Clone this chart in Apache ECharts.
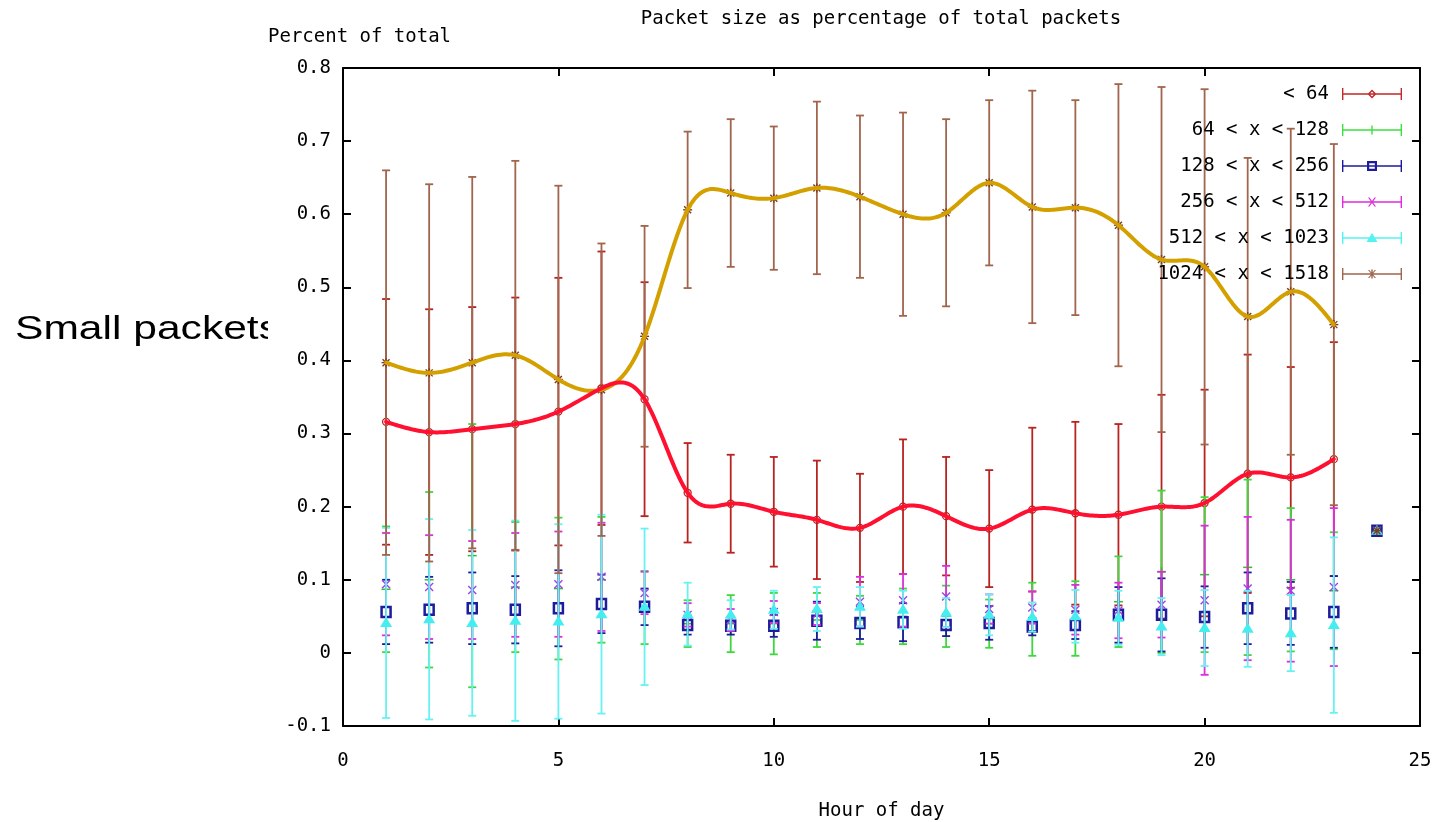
<!DOCTYPE html>
<html>
<head>
<meta charset="utf-8">
<script src="https://cdn.jsdelivr.net/npm/echarts@6/dist/echarts.min.js"></script>
<style>
  html, body { margin: 0; padding: 0; background: #fff; }
  #chart { width: 1435px; height: 822px; }
</style>
</head>
<body>
<div id="chart"></div>
<script>
const hours = [1, 2, 3, 4, 5, 6, 7, 8, 9, 10, 11, 12, 13, 14, 15, 16, 17, 18, 19, 20, 21, 22, 23, 24];

// mean and std-dev per hour
const lt64Mean = [0.316, 0.302, 0.306, 0.313, 0.330, 0.362, 0.347, 0.219, 0.204, 0.193, 0.182, 0.171, 0.200, 0.187, 0.170, 0.196, 0.191, 0.189, 0.200, 0.205, 0.245, 0.240, 0.265, 0.167];
const lt64Sd = [0.168, 0.168, 0.167, 0.173, 0.183, 0.187, 0.160, 0.068, 0.067, 0.075, 0.081, 0.074, 0.092, 0.081, 0.080, 0.112, 0.125, 0.124, 0.153, 0.155, 0.163, 0.151, 0.160, 0];

const s128Mean = [0.087, 0.100, 0.133, 0.090, 0.088, 0.100, 0.062, 0.040, 0.040, 0.040, 0.045, 0.045, 0.050, 0.050, 0.040, 0.046, 0.047, 0.070, 0.111, 0.107, 0.117, 0.100, 0.085, 0.167];
const s128Sd = [0.086, 0.120, 0.180, 0.089, 0.097, 0.086, 0.050, 0.032, 0.039, 0.042, 0.037, 0.033, 0.038, 0.042, 0.033, 0.050, 0.051, 0.062, 0.111, 0.106, 0.120, 0.098, 0.080, 0];

const s256Mean = [0.056, 0.059, 0.061, 0.059, 0.061, 0.067, 0.063, 0.038, 0.037, 0.037, 0.044, 0.041, 0.042, 0.038, 0.041, 0.036, 0.038, 0.052, 0.052, 0.049, 0.061, 0.054, 0.056, 0.167];
const s256Sd = [0.044, 0.045, 0.049, 0.046, 0.052, 0.040, 0.025, 0.013, 0.012, 0.015, 0.026, 0.022, 0.026, 0.015, 0.023, 0.012, 0.019, 0.038, 0.050, 0.042, 0.049, 0.043, 0.049, 0];

const s512Mean = [0.094, 0.090, 0.086, 0.093, 0.094, 0.104, 0.082, 0.052, 0.045, 0.056, 0.053, 0.070, 0.072, 0.077, 0.060, 0.062, 0.059, 0.058, 0.066, 0.072, 0.088, 0.085, 0.090, 0.167];
const s512Sd = [0.070, 0.071, 0.067, 0.071, 0.072, 0.074, 0.029, 0.016, 0.015, 0.015, 0.015, 0.034, 0.036, 0.042, 0.020, 0.022, 0.034, 0.038, 0.045, 0.102, 0.098, 0.097, 0.108, 0];

const s1023Mean = [0.041, 0.046, 0.041, 0.044, 0.043, 0.053, 0.063, 0.053, 0.052, 0.059, 0.060, 0.063, 0.059, 0.055, 0.052, 0.049, 0.050, 0.048, 0.036, 0.034, 0.033, 0.027, 0.038, 0.167];
const s1023Sd = [0.130, 0.137, 0.127, 0.137, 0.133, 0.136, 0.107, 0.043, 0.020, 0.026, 0.030, 0.027, 0.026, 0.020, 0.028, 0.020, 0.036, 0.037, 0.039, 0.052, 0.052, 0.052, 0.120, 0];

const s1518Mean = [0.397, 0.383, 0.397, 0.407, 0.374, 0.360, 0.433, 0.606, 0.629, 0.622, 0.636, 0.624, 0.600, 0.602, 0.643, 0.610, 0.609, 0.585, 0.538, 0.528, 0.460, 0.494, 0.449, 0.167];
const s1518Sd = [0.263, 0.258, 0.254, 0.266, 0.265, 0.200, 0.151, 0.107, 0.101, 0.098, 0.118, 0.111, 0.139, 0.128, 0.113, 0.159, 0.147, 0.193, 0.236, 0.243, 0.217, 0.223, 0.247, 0];

const seriesNames = ['< 64', '64 < x < 128', '128 < x < 256', '256 < x < 512', '512 < x < 1023', '1024 < x < 1518'];
const xTicks = { min: 0, max: 25, step: 5 };
const yTicks = { min: -0.1, max: 0.8, step: 0.1 };

const FONT = 'DejaVu Sans Mono';

// marker drawers (gnuplot point types)
const markers = {
  circle: (p, c) => [{ type: 'circle', shape: { cx: p[0], cy: p[1], r: 3.5 }, style: { fill: 'none', stroke: c, lineWidth: 1.3 } }],
  plus: (p, c) => [
    { type: 'line', shape: { x1: p[0] - 4.5, y1: p[1], x2: p[0] + 4.5, y2: p[1] }, style: { stroke: c, lineWidth: 1.5 } },
    { type: 'line', shape: { x1: p[0], y1: p[1] - 4.5, x2: p[0], y2: p[1] + 4.5 }, style: { stroke: c, lineWidth: 1.5 } }
  ],
  square: (p, c) => [{ type: 'rect', shape: { x: p[0] - 4.5, y: p[1] - 5, width: 9, height: 10 }, style: { fill: 'none', stroke: c, lineWidth: 2.5 } }],
  cross: (p, c) => [
    { type: 'line', shape: { x1: p[0] - 4, y1: p[1] - 4, x2: p[0] + 4, y2: p[1] + 4 }, style: { stroke: c, lineWidth: 1.4 } },
    { type: 'line', shape: { x1: p[0] - 4, y1: p[1] + 4, x2: p[0] + 4, y2: p[1] - 4 }, style: { stroke: c, lineWidth: 1.4 } }
  ],
  triangle: (p, c) => [{ type: 'polygon', shape: { points: [[p[0], p[1] - 6], [p[0] + 6, p[1] + 4], [p[0] - 6, p[1] + 4]] }, style: { fill: c } }],
  star: (p, c) => [
    { type: 'line', shape: { x1: p[0] - 4.5, y1: p[1], x2: p[0] + 4.5, y2: p[1] }, style: { stroke: c, lineWidth: 1.4 } },
    { type: 'line', shape: { x1: p[0], y1: p[1] - 4.5, x2: p[0], y2: p[1] + 4.5 }, style: { stroke: c, lineWidth: 1.4 } },
    { type: 'line', shape: { x1: p[0] - 3.5, y1: p[1] - 3.5, x2: p[0] + 3.5, y2: p[1] + 3.5 }, style: { stroke: c, lineWidth: 1.4 } },
    { type: 'line', shape: { x1: p[0] - 3.5, y1: p[1] + 3.5, x2: p[0] + 3.5, y2: p[1] - 3.5 }, style: { stroke: c, lineWidth: 1.4 } }
  ]
};

function errorSeries(name, mean, sd, barColor, markColor, marker) {
  return {
    name: name,
    type: 'custom',
    color: barColor,
    data: hours.map((h, i) => [h, mean[i], sd[i]]),
    encode: { x: 0, y: 1 },
    renderItem: (params, api) => {
      const x = api.value(0), m = api.value(1), s = api.value(2);
      const mid = api.coord([x, m]);
      const children = [];
      if (s > 0) {
        const top = api.coord([x, m + s]);
        const bot = api.coord([x, m - s]);
        const st = { stroke: barColor, lineWidth: 1.8 };
        children.push({ type: 'line', shape: { x1: top[0], y1: top[1], x2: bot[0], y2: bot[1] }, style: st });
        children.push({ type: 'line', shape: { x1: top[0] - 4, y1: top[1], x2: top[0] + 4, y2: top[1] }, style: st });
        children.push({ type: 'line', shape: { x1: bot[0] - 4, y1: bot[1], x2: bot[0] + 4, y2: bot[1] }, style: st });
      }
      return { type: 'group', children: children.concat(markers[marker](mid, markColor)) };
    }
  };
}

// natural cubic spline (like gnuplot "smooth csplines")
function naturalSpline(xs, ys) {
  const n = xs.length;
  const h = [], alpha = [0];
  for (let i = 0; i < n - 1; i++) h.push(xs[i + 1] - xs[i]);
  for (let i = 1; i < n - 1; i++) {
    alpha.push(3 / h[i] * (ys[i + 1] - ys[i]) - 3 / h[i - 1] * (ys[i] - ys[i - 1]));
  }
  const l = [1], mu = [0], z = [0];
  for (let i = 1; i < n - 1; i++) {
    l[i] = 2 * (xs[i + 1] - xs[i - 1]) - h[i - 1] * mu[i - 1];
    mu[i] = h[i] / l[i];
    z[i] = (alpha[i] - h[i - 1] * z[i - 1]) / l[i];
  }
  const c = new Array(n).fill(0), b = [], d = [];
  for (let j = n - 2; j >= 0; j--) {
    c[j] = (j > 0 ? z[j] - mu[j] * c[j + 1] : 0);
    b[j] = (ys[j + 1] - ys[j]) / h[j] - h[j] * (c[j + 1] + 2 * c[j]) / 3;
    d[j] = (c[j + 1] - c[j]) / (3 * h[j]);
  }
  return (j, x) => {
    const t = x - xs[j];
    return ys[j] + b[j] * t + c[j] * t * t + d[j] * t * t * t;
  };
}

function curveSeries(name, mean, color) {
  const xs = hours.slice(0, 23);
  const ys = mean.slice(0, 23);
  const f = naturalSpline(xs, ys);
  return {
    name: name,
    type: 'custom',
    silent: true,
    data: xs.map((h, i) => [h, ys[i]]),
    encode: { x: 0, y: 1 },
    renderItem: (params, api) => {
      const j = params.dataIndex;
      if (j >= xs.length - 1) return null;
      const pts = [];
      for (let k = 0; k <= 20; k++) {
        const x = xs[j] + (xs[j + 1] - xs[j]) * k / 20;
        pts.push(api.coord([x, f(j, x)]));
      }
      return { type: 'polyline', shape: { points: pts }, style: { stroke: color, lineWidth: 4, fill: 'none', lineCap: 'round', lineJoin: 'round' } };
    }
  };
}

// legend icons: horizontal bar with end caps plus the point marker
const iconBase = 'M0,5.3H60V6.7H0Z M0,0H1.4V12H0Z M58.6,0H60V12H58.6Z ';
const legendIcons = [
  iconBase + 'M30,1.5L34.5,6L30,10.5L25.5,6Z M30,3.5L27.5,6L30,8.5L32.5,6Z',
  iconBase + 'M29.3,1.5H30.7V10.5H29.3Z',
  iconBase + 'M25,1H35V11H25Z M27.2,3.2V8.8H32.8V3.2Z',
  iconBase + 'M26,1.5L27.5,1.5L34,10.5L32.5,10.5Z M32.5,1.5L34,1.5L27.5,10.5L26,10.5Z',
  iconBase + 'M30,1L35.5,10H24.5Z',
  iconBase + 'M29.3,1.5H30.7V10.5H29.3Z M26,2L27.3,2L34,10L32.7,10Z M32.7,2L34,2L27.3,10L26,10Z'
];
const legendColors = ['#c0282a', '#3ee03e', '#1c1c9c', '#dd2ddd', '#55f2f2', '#a0654c'];

const chart = echarts.init(document.getElementById('chart'));

const axisCommon = {
  type: 'value',
  axisLine: { show: true, onZero: false, lineStyle: { color: '#000', width: 2 } },
  axisTick: { show: true, inside: true, length: 8, lineStyle: { color: '#000', width: 2 } },
  splitLine: { show: false }
};

chart.setOption({
  animation: false,
  backgroundColor: '#fff',
  title: [
    {
      text: 'Packet size as percentage of total packets',
      left: 876, top: 5, textAlign: 'center',
      textStyle: { fontFamily: FONT, fontSize: 19, fontWeight: 'normal', color: '#000' }
    },
    {
      text: 'Percent of total',
      left: 263, top: 23,
      textStyle: { fontFamily: FONT, fontSize: 19, fontWeight: 'normal', color: '#000' }
    }
  ],
  legend: {
    orient: 'vertical',
    right: 33,
    top: 84,
    padding: 0,
    align: 'right',
    itemWidth: 60,
    itemHeight: 12,
    itemGap: 16,
    selectedMode: false,
    textStyle: { fontFamily: FONT, fontSize: 19, color: '#000', lineHeight: 20, padding: [0, 8, 0, 0] },
    data: seriesNames.map((n, i) => ({ name: n, icon: 'path://' + legendIcons[i], itemStyle: { color: legendColors[i] } }))
  },
  grid: { left: 343, right: 15, top: 68, bottom: 96, outerBoundsMode: 'none', containLabel: false },
  xAxis: [
    Object.assign({}, axisCommon, {
      min: xTicks.min, max: xTicks.max, interval: xTicks.step, position: 'bottom',
      name: 'Hour of day', nameLocation: 'middle', nameGap: 76,
      nameTextStyle: { fontFamily: FONT, fontSize: 19, color: '#000' },
      axisLabel: { fontFamily: FONT, fontSize: 19, color: '#000', margin: 26 }
    }),
    Object.assign({}, axisCommon, {
      min: xTicks.min, max: xTicks.max, interval: xTicks.step, position: 'top',
      axisLabel: { show: false }
    })
  ],
  yAxis: [
    Object.assign({}, axisCommon, {
      min: yTicks.min, max: yTicks.max, interval: yTicks.step, position: 'left',
      axisLabel: { fontFamily: FONT, fontSize: 19, color: '#000', margin: 12 }
    }),
    Object.assign({}, axisCommon, {
      min: yTicks.min, max: yTicks.max, interval: yTicks.step, position: 'right',
      axisLabel: { show: false }
    })
  ],
  graphic: [
    {
      type: 'text', left: 15, top: 313, z: 0, scaleX: 1.29,
      style: { text: 'Small packets', font: '33px "Liberation Sans"', fill: '#000' }
    },
    {
      type: 'rect', left: 268, top: 305, z: 1,
      shape: { width: 30, height: 45 },
      style: { fill: '#fff' }
    }
  ],
  series: [
    errorSeries(seriesNames[0], lt64Mean, lt64Sd, '#b8231f', '#b8231f', 'circle'),
    errorSeries(seriesNames[1], s128Mean, s128Sd, '#3ed83e', '#2fc02f', 'plus'),
    errorSeries(seriesNames[2], s256Mean, s256Sd, '#1c1c9c', '#1c1c9c', 'square'),
    errorSeries(seriesNames[3], s512Mean, s512Sd, '#dd2ddd', '#a040e0', 'cross'),
    errorSeries(seriesNames[4], s1023Mean, s1023Sd, '#66f2f2', '#44eeee', 'triangle'),
    errorSeries(seriesNames[5], s1518Mean, s1518Sd, '#a0654c', '#7a3b22', 'star'),
    curveSeries('gold curve', s1518Mean, '#d4a000'),
    curveSeries('red curve', lt64Mean, '#ff1030')
  ]
});
</script>
</body>
</html>
